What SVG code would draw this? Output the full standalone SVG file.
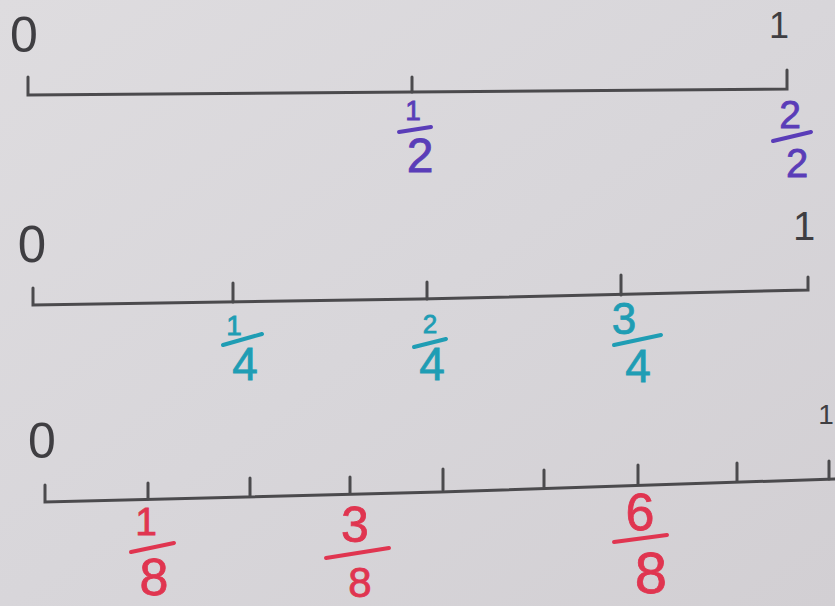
<svg xmlns="http://www.w3.org/2000/svg" width="835" height="606" viewBox="0 0 835 606">
<defs>
<linearGradient id="paper" x1="0" y1="0" x2="1" y2="1">
<stop offset="0" stop-color="#dedcdf"/>
<stop offset="0.5" stop-color="#d8d6da"/>
<stop offset="1" stop-color="#d2cfd3"/>
</linearGradient>
</defs>
<style>
.ax{stroke:#4b4a4d;stroke-width:3;fill:none;stroke-linecap:round}
.lbl{font-family:"Liberation Sans","DejaVu Sans",sans-serif;fill:#3f3e42;text-anchor:middle}
.num{font-family:"Liberation Sans","DejaVu Sans",sans-serif;text-anchor:middle;stroke-width:0.8}
.p{fill:#5a3db8;stroke:#5a3db8}.c{fill:#1f9db4;stroke:#1f9db4}.r{fill:#e03550;stroke:#e03550}
.bar{stroke-width:4;stroke-linecap:round;fill:none}
</style>
<rect width="835" height="606" fill="url(#paper)"/>

<g id="line-halves">
<path class="ax" d="M28,77 L28,95 L412,92 L787,89 L787,70"/>
<path class="ax" d="M412,92 L412,77"/>
<text class="lbl" x="24" y="52" font-size="50">0</text>
<text class="lbl" x="779" y="38" font-size="36">1</text>
<text class="num p" x="413" y="120" font-size="28">1</text>
<line class="bar p" x1="399" y1="132" x2="431" y2="127"/>
<text class="num p" x="420" y="172" font-size="48">2</text>
<text class="num p" x="790" y="128" font-size="39">2</text>
<line class="bar p" x1="773" y1="141" x2="811" y2="132"/>
<text class="num p" x="797" y="177" font-size="40">2</text>
</g>

<g id="line-quarters">
<path class="ax" d="M33,288 L33,305 L420,299 L808,290 L808,277"/>
<path class="ax" d="M233,302 L233,283 M427,299 L427,282 M621,295 L621,275"/>
<text class="lbl" x="32" y="262" font-size="51">0</text>
<text class="lbl" x="804" y="240" font-size="40">1</text>
<text class="num c" x="234" y="335" font-size="28">1</text>
<line class="bar c" x1="223" y1="345" x2="262" y2="334"/>
<text class="num c" x="245" y="380" font-size="46">4</text>
<text class="num c" x="430" y="333" font-size="26">2</text>
<line class="bar c" x1="414" y1="347" x2="446" y2="339"/>
<text class="num c" x="432" y="380" font-size="46">4</text>
<text class="num c" x="624" y="334" font-size="44">3</text>
<line class="bar c" x1="614" y1="345" x2="661" y2="335"/>
<text class="num c" x="638" y="382" font-size="46">4</text>
</g>

<g id="line-eighths">
<path class="ax" d="M45,485 L45,502 L440,492 L835,479"/>
<path class="ax" d="M148,499 L148,483 M250,496 L250,478 M350,493 L350,477 M443,490 L443,469 M544,487 L544,470 M638,484 L638,465 M737,481 L737,463 M829,479 L829,461"/>
<text class="lbl" x="42" y="458" font-size="50">0</text>
<text class="lbl" x="826" y="424" font-size="28">1</text>
<text class="num r" x="146" y="535" font-size="39">1</text>
<line class="bar r" x1="131" y1="552" x2="174" y2="543"/>
<text class="num r" x="154" y="595" font-size="52">8</text>
<text class="num r" x="355" y="542" font-size="50">3</text>
<line class="bar r" x1="326" y1="558" x2="389" y2="548"/>
<text class="num r" x="360" y="597" font-size="42">8</text>
<text class="num r" x="640" y="530" font-size="52">6</text>
<line class="bar r" x1="614" y1="542" x2="667" y2="535"/>
<text class="num r" x="651" y="593" font-size="58">8</text>
</g>
</svg>
